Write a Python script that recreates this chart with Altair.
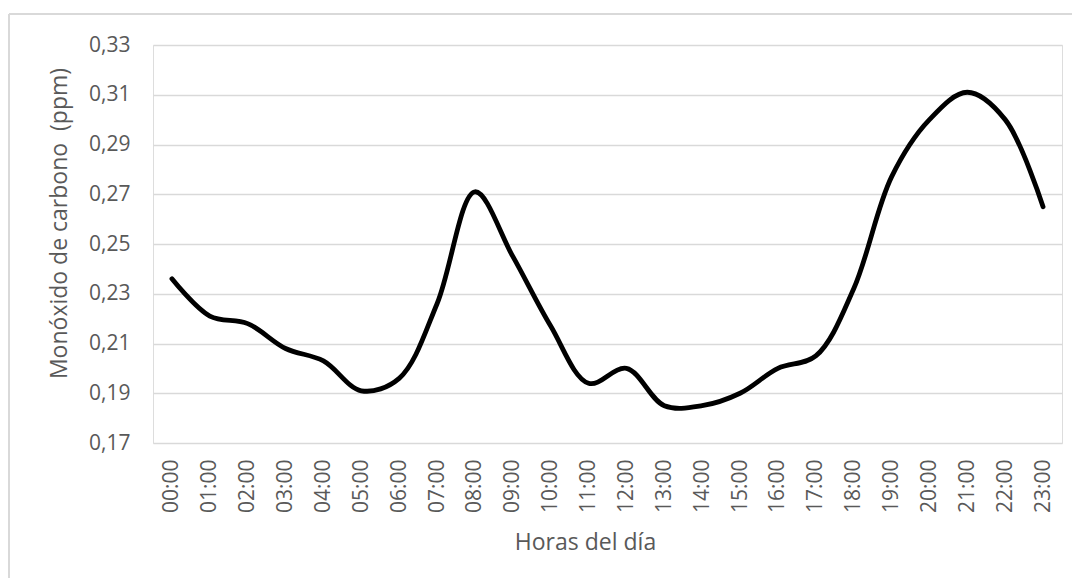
import altair as alt
import pandas as pd

hours = ["00:00", "01:00", "02:00", "03:00", "04:00", "05:00", "06:00", "07:00",
         "08:00", "09:00", "10:00", "11:00", "12:00", "13:00", "14:00", "15:00",
         "16:00", "17:00", "18:00", "19:00", "20:00", "21:00", "22:00", "23:00"]
co_ppm = [0.236, 0.221, 0.218, 0.208, 0.203, 0.191, 0.196, 0.226,
          0.271, 0.245, 0.217, 0.194, 0.200, 0.185, 0.185, 0.190,
          0.200, 0.205, 0.232, 0.277, 0.300, 0.311, 0.300, 0.265]
y_ticks = [0.17, 0.19, 0.21, 0.23, 0.25, 0.27, 0.29, 0.31, 0.33]

df = pd.DataFrame({"hora": hours, "co": co_ppm})

FONT = "Open Sans"
GREY = "#595959"

line = alt.Chart(df).mark_line(
    color="black", strokeWidth=4.8, interpolate="catmull-rom", strokeCap="round"
).encode(
    x=alt.X("hora:N", sort=hours,
            scale=alt.Scale(type="point", padding=0.5),
            axis=alt.Axis(title="Horas del día", labelAngle=-90, labelAlign="right",
                          labelBaseline="middle", labelPadding=16, ticks=False,
                          domain=False, grid=False, labelFontSize=21, titleFontSize=23,
                          labelColor=GREY, titleColor=GREY, titleFontWeight="normal",
                          labelFont=FONT, titleFont=FONT,
                          titleX=432, titleY=106, titleBaseline="alphabetic",
                          titleAlign="center")),
    y=alt.Y("co:Q",
            scale=alt.Scale(domain=[0.17, 0.33], nice=False, zero=False),
            axis=alt.Axis(title="Monóxido de carbono \u00a0(ppm)", values=y_ticks,
                          labelExpr="replace(format(datum.value, '.2f'), '.', ',')",
                          ticks=False, domain=False, grid=True, gridColor="#d9d9d9",
                          gridWidth=1.5, labelPadding=23, labelFontSize=21,
                          titleFontSize=23, labelColor=GREY, titleColor=GREY,
                          titleFontWeight="normal", labelFont=FONT, titleFont=FONT,
                          titleX=-87, titleY=178, titleBaseline="alphabetic",
                          titleAngle=-90, titleAlign="center")),
)

frame_top = alt.Chart(df).mark_rule(color="#d9d9d9", strokeWidth=1.5).encode(
    x=alt.value(-144), x2=alt.value(960), y=alt.value(-31))
frame_left = alt.Chart(df).mark_rule(color="#d9d9d9", strokeWidth=1.5).encode(
    x=alt.value(-144), y=alt.value(-31), y2=alt.value(600))

chart = alt.layer(frame_top, frame_left, line).properties(
    width=909, height=398,
    padding={"left": 145, "top": 37, "right": 10, "bottom": 135},
    autosize=alt.AutoSizeParams(type="none"),
).configure_view(stroke=None).configure(background="white")

chart.save("out.html", embed_options={"renderer": "svg", "actions": False})
